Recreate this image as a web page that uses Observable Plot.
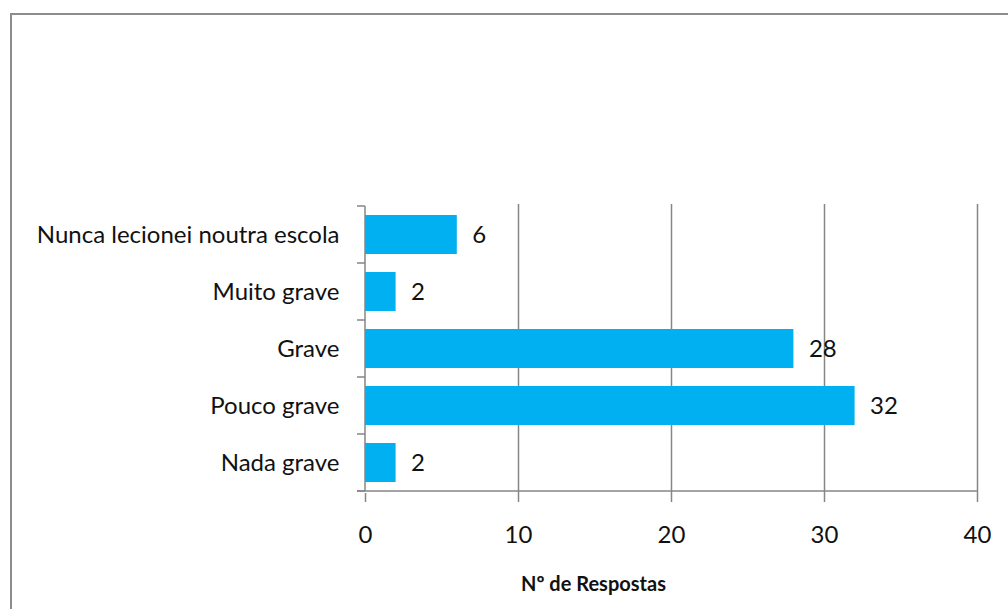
<!DOCTYPE html>
<html><head><meta charset="utf-8">
<script src="https://cdn.jsdelivr.net/npm/d3@7"></script>
<script src="https://cdn.jsdelivr.net/npm/@observablehq/plot@0.6"></script>
<style>
body{margin:0;background:#fff;overflow:hidden}
#wrap{position:relative;width:1008px;height:609px;overflow:hidden}
#frame{position:absolute;left:10px;top:13px;width:1100px;height:700px;border:2px solid #8c8c8c;box-sizing:border-box}
#chart{position:absolute;left:0;top:0}
</style></head><body>
<div id="wrap"><div id="frame"></div><div id="chart"></div></div>
<script>
const categories = ["Nunca lecionei noutra escola", "Muito grave", "Grave", "Pouco grave", "Nada grave"];
const values = [6, 2, 28, 32, 2];
const xTicks = [0, 10, 20, 30, 40];
const axisTitle = "Nº de Respostas";

const data = categories.map((c, i) => ({categoria: c, valor: values[i]}));
const font = "Lato, 'Open Sans', sans-serif";
const gray = "#868686";

function excelAxes(index, scales) {
  const y = scales.y, x = scales.x;
  const step = y.step ? y.step() : (y(categories[1]) - y(categories[0]));
  const bw = y.bandwidth ? y.bandwidth() : 0;
  const x0 = x(xTicks[0]), x1 = x(xTicks[xTicks.length - 1]);
  const bounds = categories.map(c => y(c) + bw / 2 - step / 2);
  bounds.push(bounds[bounds.length - 1] + step);
  const g = d3.create("svg:g").attr("stroke", gray).attr("stroke-width", 1.5).attr("fill", "none");
  for (const b of bounds) g.append("line").attr("x1", x0 - 8).attr("x2", x0).attr("y1", b).attr("y2", b);
  g.append("line").attr("x1", x0).attr("x2", x0).attr("y1", bounds[0]).attr("y2", bounds[bounds.length - 1]);
  g.append("line").attr("x1", x0 - 8).attr("x2", x1).attr("y1", bounds[bounds.length - 1]).attr("y2", bounds[bounds.length - 1]);
  return g.node();
}

const chart = Plot.plot({
  width: 1008, height: 609,
  marginLeft: 365, marginRight: 31, marginTop: 204, marginBottom: 116,
  style: {fontFamily: font, fontSize: "24px", color: "#000", background: "transparent"},
  x: {domain: [0, 40], ticks: xTicks},
  y: {domain: categories, paddingInner: 0.32, paddingOuter: 0.16},
  marks: [
    Plot.ruleX(xTicks.slice(1), {stroke: gray, strokeWidth: 1.5}),
    Plot.barX(data, {y: "categoria", x: "valor", fill: "#00B0F0"}),
    Plot.text(data, {y: "categoria", x: "valor", text: d => String(d.valor), textAnchor: "start", dx: 15, fill: "#111", fontSize: 24}),
    Plot.axisX({ticks: xTicks, tickSize: 9, tickPadding: 23, stroke: gray, strokeWidth: 1.5, label: null, fill: "#111", fontSize: 24}),
    Plot.axisY({tickSize: 0, tickPadding: 26, label: null, fill: "#111", fontSize: 24}),
    Plot.text([axisTitle], {frameAnchor: "bottom", dx: -78, dy: 97, fontWeight: "bold", fontSize: 20, fill: "#111"}),
    excelAxes
  ]
});
document.getElementById("chart").appendChild(chart);
</script>
</body></html>
